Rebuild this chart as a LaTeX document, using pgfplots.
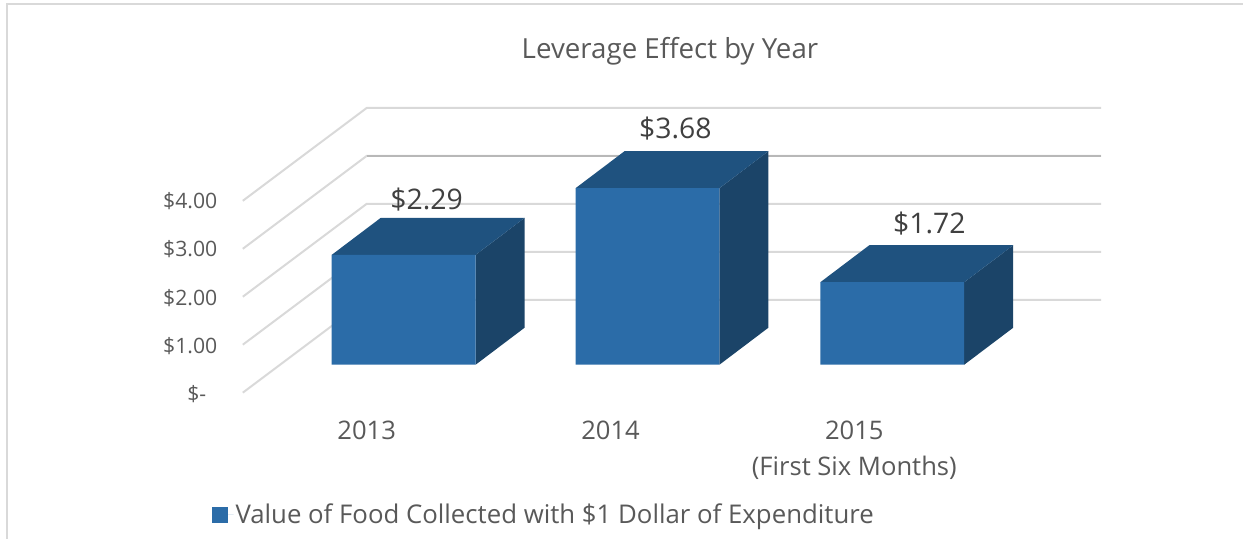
\documentclass[border=0pt]{standalone}
\usepackage{pgfplots}
\pgfplotsset{compat=1.18}
\usepackage{fontspec}
\setmainfont{Open Sans}
\definecolor{front}{HTML}{2B6CA8}
\definecolor{topf}{HTML}{1F527F}
\definecolor{sidef}{HTML}{1B4468}
\definecolor{gridc}{HTML}{D9D9D9}
\definecolor{txt}{HTML}{595959}
\definecolor{lab}{HTML}{404040}
\begin{document}
\begin{tikzpicture}
\begin{axis}[
  scale only axis, width=1244pt, height=539pt,
  xmin=0, xmax=1244, ymin=-3.625, ymax=7.604,
  hide axis, clip=false,
  legend style={at={(212/1244,24/539)}, anchor=west, draw=none, fill=none, font=\fontsize{25.8}{30}\selectfont\color{txt}, inner sep=0pt, legend cell align=left},
  legend image code/.code={\fill[front] (0pt,-8pt) rectangle (16pt,8pt); \path (0pt,0pt) -- (21.5pt,0pt);},
]
% full picture extent
\path (axis cs:0,-3.625) rectangle (axis cs:1244,7.604);
% frame
\addplot[gridc, line width=2pt, forget plot] coordinates {(7,-3.625)(7,7.521)(1244,7.521)};
% gridlines: side wall and back wall, one per dollar
\addplot[gridc, line width=2pt, forget plot] coordinates {(243,-0.583)(367,1.354)(1102,1.354)};
\addplot[gridc, line width=2pt, forget plot] coordinates {(243,0.417)(367,2.354)(1102,2.354)};
\addplot[gridc, line width=2pt, forget plot] coordinates {(243,1.417)(367,3.354)(1102,3.354)};
\addplot[gridc, line width=2pt, forget plot] coordinates {(243,2.417)(367,4.354)(1102,4.354)};
\addplot[gridc!85!black, line width=1.5pt, forget plot] coordinates {(367,4.354)(1102,4.354)};
\addplot[gridc, line width=2pt, forget plot] coordinates {(243,3.417)(367,5.354)(1102,5.354)};
% side faces
\addplot[fill=sidef, draw=none, forget plot] coordinates {(476,0)(525,0.771)(525,3.061)(476,2.29)} -- cycle;
\addplot[fill=sidef, draw=none, forget plot] coordinates {(720,0)(769,0.771)(769,4.451)(720,3.68)} -- cycle;
\addplot[fill=sidef, draw=none, forget plot] coordinates {(965,0)(1014,0.771)(1014,2.491)(965,1.72)} -- cycle;
% top faces
\addplot[fill=topf, draw=none, forget plot] coordinates {(332,2.29)(476,2.29)(525,3.061)(381,3.061)} -- cycle;
\addplot[fill=topf, draw=none, forget plot] coordinates {(576,3.68)(720,3.68)(769,4.451)(625,4.451)} -- cycle;
\addplot[fill=topf, draw=none, forget plot] coordinates {(821,1.72)(965,1.72)(1014,2.491)(870,2.491)} -- cycle;
% front faces
\addplot[ybar, bar width=144pt, bar shift=0pt, fill=front, draw=none] coordinates {(404,2.29)(648,3.68)(893,1.72)};
\addlegendentry{Value of Food Collected with \$1 Dollar of Expenditure}
% texts
\node[font=\fontsize{27.7}{32}\selectfont, text=txt] at (axis cs:670.5,6.54) {Leverage Effect by Year};
\node[font=\fontsize{28.4}{32}\selectfont, text=lab] at (axis cs:427,3.45) {\$2.29};
\node[font=\fontsize{28.4}{32}\selectfont, text=lab] at (axis cs:676,4.93) {\$3.68};
\node[font=\fontsize{28.4}{32}\selectfont, text=lab] at (axis cs:930,2.95) {\$1.72};
\node[font=\fontsize{21.2}{24}\selectfont, text=txt, anchor=east] at (axis cs:221,3.41) {\$4.00};
\node[font=\fontsize{21.2}{24}\selectfont, text=txt, anchor=east] at (axis cs:221,2.41) {\$3.00};
\node[font=\fontsize{21.2}{24}\selectfont, text=txt, anchor=east] at (axis cs:221,1.39) {\$2.00};
\node[font=\fontsize{21.2}{24}\selectfont, text=txt, anchor=east] at (axis cs:221,0.39) {\$1.00};
\node[font=\fontsize{21.2}{24}\selectfont, text=txt, anchor=east] at (axis cs:210,-0.61) {\$-};
\node[font=\fontsize{25.6}{30}\selectfont, text=txt] at (axis cs:367,-1.375) {2013};
\node[font=\fontsize{25.6}{30}\selectfont, text=txt] at (axis cs:611,-1.375) {2014};
\node[font=\fontsize{25.6}{30}\selectfont, text=txt] at (axis cs:855,-1.375) {2015};
\node[font=\fontsize{25.6}{30}\selectfont, text=txt] at (axis cs:855,-2.146) {(First Six Months)};
\end{axis}
\end{tikzpicture}
\end{document}
